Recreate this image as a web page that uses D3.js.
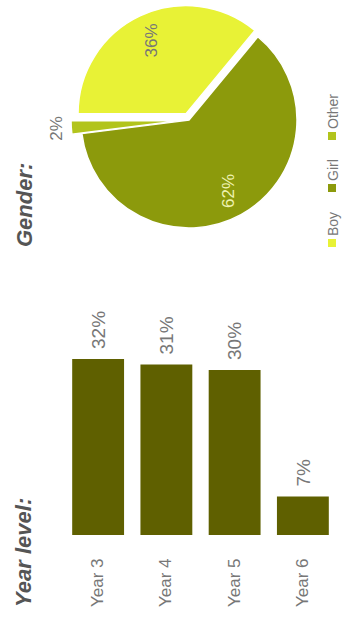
<!DOCTYPE html>
<html>
<head>
<meta charset="utf-8">
<script src="https://cdn.jsdelivr.net/npm/d3@7"></script>
<style>
  body { margin: 0; background: #fff; }
  text { font-family: Arial, "Liberation Sans", sans-serif; }
</style>
</head>
<body>
<div id="chart-area"></div>
<script>
var years = ['Year 3', 'Year 4', 'Year 5', 'Year 6'];
var yearValues = [32, 31, 30, 7];

var genders = ['Boy', 'Girl', 'Other'];
var genderValues = [36, 62, 2];
var genderColors = ['#e8f236', '#8c9a0c', '#b2c41c'];

var svg = d3.select("#chart-area").append("svg")
    .attr("width", 342)
    .attr("height", 624)

// the whole chart is drawn turned a quarter turn
var g = svg.append('g')
    .attr('transform', 'translate(0,624) rotate(-90)')

// ---- year level bars ----
g.append('text')
    .attr('x', 17)
    .attr('y', 31)
    .attr('font-size', 22)
    .attr('font-weight', 'bold')
    .attr('font-style', 'italic')
    .attr('fill', '#555')
    .text('Year level:')

var band = d3.scaleBand()
    .domain(years)
    .range([64, 337])
    .paddingInner(0.24)
    .paddingOuter(0.12)

var x = d3.scaleLinear()
    .domain([0, 40])
    .range([0, 220])

var barX = 89;

var yearData = years.map((d, i) => {
    return {year: d, value: yearValues[i]};
})

g.selectAll('rect.bar')
    .data(yearData)
    .enter()
    .append('rect')
    .attr('class', 'bar')
    .attr('x', barX)
    .attr('y', (d) => band(d.year))
    .attr('width', (d) => x(d.value))
    .attr('height', band.bandwidth())
    .attr('fill', '#5f6000')

g.selectAll('text.cat')
    .data(yearData)
    .enter()
    .append('text')
    .attr('class', 'cat')
    .attr('x', 17)
    .attr('y', (d) => band(d.year) + band.bandwidth() / 2)
    .attr('dy', '0.3em')
    .attr('font-size', 17)
    .attr('fill', '#777')
    .text((d) => d.year)

g.selectAll('text.val')
    .data(yearData)
    .enter()
    .append('text')
    .attr('class', 'val')
    .attr('x', (d) => barX + x(d.value) + 10)
    .attr('y', (d) => band(d.year) + band.bandwidth() / 2)
    .attr('dy', '0.35em')
    .attr('font-size', 19)
    .attr('fill', '#777')
    .text((d) => d.value + '%')

// ---- gender pie ----
g.append('text')
    .attr('x', 377)
    .attr('y', 32)
    .attr('font-size', 22)
    .attr('font-weight', 'bold')
    .attr('font-style', 'italic')
    .attr('fill', '#555')
    .text('Gender:')

var radius = 108;
var explode = [7, 0, 10];

var genderData = genders.map((d, i) => {
    return {gender: d, value: genderValues[i], explode: explode[i]};
})

var pie = d3.pie()
    .sort(null)
    .value((d) => d.value)

var arc = d3.arc()
    .innerRadius(0)
    .outerRadius(radius)

var labelArc = d3.arc()
    .innerRadius(radius * 0.75)
    .outerRadius(radius * 0.75)

var outerArc = d3.arc()
    .innerRadius(radius + 15)
    .outerRadius(radius + 15)

var color = d3.scaleOrdinal()
    .domain(genders)
    .range(genderColors)

var pieG = g.append('g')
    .attr('transform', 'translate(504,189)')

var slices = pieG.selectAll('g.slice')
    .data(pie(genderData))
    .enter()
    .append('g')
    .attr('class', 'slice')
    .attr('transform', (d) => {
        var a = (d.startAngle + d.endAngle) / 2;
        var e = d.data.explode;
        return 'translate(' + (Math.sin(a) * e) + ',' + (-Math.cos(a) * e) + ')';
    })

slices.append('path')
    .attr('d', arc)
    .attr('fill', (d) => color(d.data.gender))
    .attr('stroke', '#fff')
    .attr('stroke-width', 1.5)

slices.append('text')
    .attr('transform', (d) => {
        var c = d.data.value < 5 ? outerArc.centroid(d) : labelArc.centroid(d);
        return 'translate(' + c + ')';
    })
    .attr('text-anchor', 'middle')
    .attr('dy', '0.35em')
    .attr('font-size', 17)
    .attr('fill', (d) => d.data.gender == 'Girl' ? '#eef2b0' : '#777')
    .text((d) => d.data.value + '%')

// legend
var legend = g.selectAll('g.legend')
    .data(genders)
    .enter()
    .append('g')
    .attr('class', 'legend')

var legendX = [377, 432, 484];

legend.append('rect')
    .attr('x', (d, i) => legendX[i])
    .attr('y', 328)
    .attr('width', 8)
    .attr('height', 8)
    .attr('fill', (d) => color(d))

legend.append('text')
    .attr('x', (d, i) => legendX[i] + 11)
    .attr('y', 338)
    .attr('font-size', 14)
    .attr('fill', '#777')
    .text((d) => d)
</script>
</body>
</html>
